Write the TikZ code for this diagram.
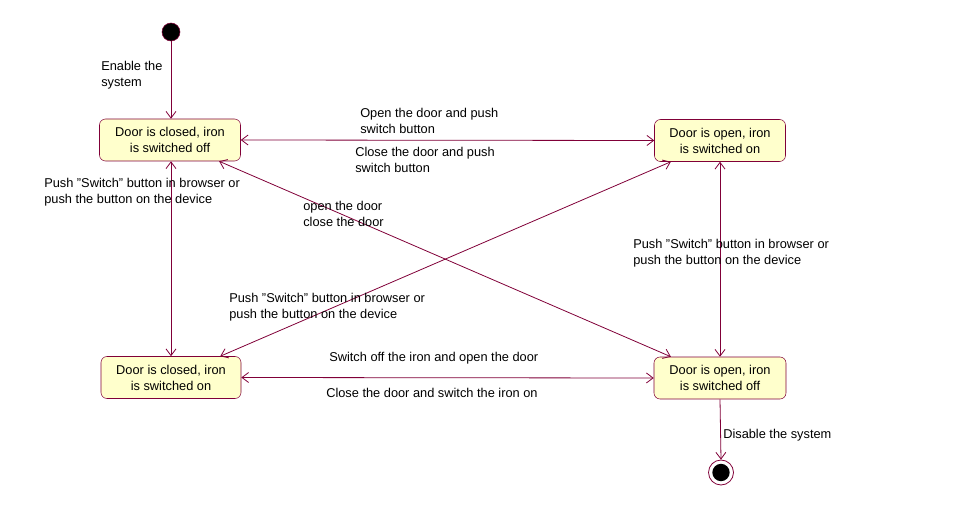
\documentclass[tikz,border=0pt]{standalone}
\usepackage{fontspec}
\setmainfont{Liberation Sans}
\usetikzlibrary{arrows.meta}
\definecolor{rose}{RGB}{128,0,56}
\definecolor{boxfill}{RGB}{255,255,204}
\newcommand{\sq}{\symbol{34}}
\tikzset{
  px/.style={x=0.75pt,y=-0.75pt},
  state/.style={draw=rose, fill=boxfill, rounded corners=4.5pt, minimum width=105pt, minimum height=31.5pt, align=center, inner sep=0pt, font=\fontsize{9.6}{12}\selectfont},
  lbl/.style={align=left, anchor=west, inner sep=0pt, font=\fontsize{9.6}{12}\selectfont},
  conn/.style={draw=rose, line width=0.6pt},
  barb/.tip={Straight Barb[length=5pt,width=7.5pt,line width=0.6pt]},
  tr2/.style={conn, barb-barb},
  tr1/.style={conn, -barb},
}
\begin{document}
\begin{tikzpicture}[px]
\useasboundingbox (0,0) rectangle (959,509);
% states
\node[state, minimum width=105.75pt] (tl) at (170,140) {Door is closed, iron\\is switched off};
\node[state, minimum width=98.25pt] (tr) at (720,140.5) {Door is open, iron\\is switched on};
\node[state] (bl) at (171,377.5) {Door is closed, iron\\is switched on};
\node[state, minimum width=99pt] (br) at (720,378) {Door is open, iron\\is switched off};
% start and end
\node[circle, draw=rose, fill=black, minimum size=13.5pt, inner sep=0pt] (start) at (171,32) {};
\node[circle, draw=rose, fill=white, minimum size=18.75pt, inner sep=0pt, line width=0.6pt] (fin) at (721,472.5) {};
\node[circle, fill=black, minimum size=13pt, inner sep=0pt] (finc) at (721,472.5) {};
% transitions
\draw[tr1] (start) -- (start |- tl.north);
\draw[tr2] (tl.east) -- (tr.west);
\draw[tr2] (bl.east) -- (br.west);
\draw[tr2] (tl.south -| bl) -- (bl.north);
\draw[tr2] (tr.south) -- (br.north);
\draw[tr2] (tl) -- (br);
\draw[tr2] (bl) -- (tr);
\draw[tr1] (br.south) -- (fin.north);
% labels
\node[lbl] (l1) at (101,75) {Enable the\\system};
\node[lbl] (l2) at (360,121) {Open the door and push\\switch button};
\node[lbl] (l3) at (355,160) {Close the door and push\\switch button};
\node[lbl] (l4) at (44,192) {Push \sq Switch\sq\ button in browser or\\push the button on the device};
\node[lbl] (l5) at (303,214) {open the door\\close the door};
\node[lbl] (l6) at (633,253) {Push \sq Switch\sq\ button in browser or\\push the button on the device};
\node[lbl] (l7) at (229,307) {Push \sq Switch\sq\ button in browser or\\push the button on the device};
\node[lbl] (l8) at (329,358) {Switch off the iron and open the door};
\node[lbl] (l9) at (326,393) {Close the door and switch the iron on};
\node[lbl] (l10) at (723,435) {Disable the system};
\end{tikzpicture}
\end{document}
